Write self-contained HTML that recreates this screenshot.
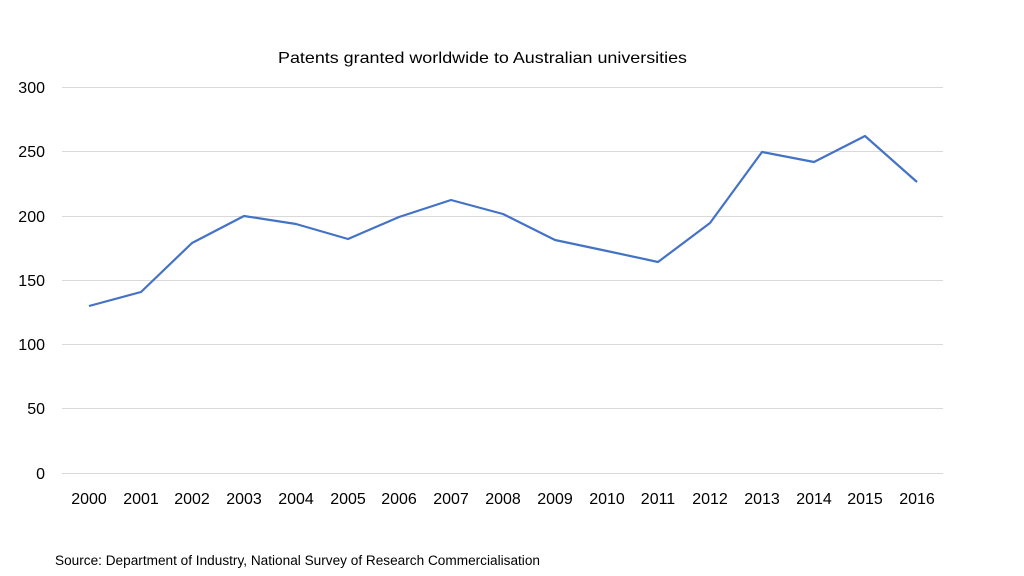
<!DOCTYPE html>
<html><head><meta charset="utf-8"><style>
html,body{margin:0;padding:0;background:#fff;}
svg{display:block;font-family:"Liberation Sans",sans-serif;}
</style></head><body>
<svg width="1024" height="576" viewBox="0 0 1024 576" xmlns="http://www.w3.org/2000/svg">
<rect width="1024" height="576" fill="#fff"/>
<text x="278" y="63" font-size="16" textLength="409" lengthAdjust="spacingAndGlyphs" fill="#000">Patents granted worldwide to Australian universities</text>
<g stroke="#d9d9d9" stroke-width="1">
<line x1="62" x2="943" y1="87.5" y2="87.5"/>
<line x1="62" x2="943" y1="151.5" y2="151.5"/>
<line x1="62" x2="943" y1="216.5" y2="216.5"/>
<line x1="62" x2="943" y1="280.5" y2="280.5"/>
<line x1="62" x2="943" y1="344.5" y2="344.5"/>
<line x1="62" x2="943" y1="408.5" y2="408.5"/>
<line x1="62" x2="943" y1="473.5" y2="473.5"/>
</g>
<g font-size="16" fill="#000" text-anchor="end">
<text x="45" y="93">300</text>
<text x="45" y="157">250</text>
<text x="45" y="222">200</text>
<text x="45" y="286">150</text>
<text x="45" y="350">100</text>
<text x="45" y="414">50</text>
<text x="45" y="479">0</text>
</g>
<g font-size="16" fill="#000" text-anchor="middle">
<text x="89" y="504">2000</text><text x="141" y="504">2001</text><text x="192" y="504">2002</text><text x="244" y="504">2003</text><text x="296" y="504">2004</text><text x="348" y="504">2005</text><text x="399" y="504">2006</text><text x="451" y="504">2007</text><text x="503" y="504">2008</text><text x="555" y="504">2009</text><text x="607" y="504">2010</text><text x="658" y="504">2011</text><text x="710" y="504">2012</text><text x="762" y="504">2013</text><text x="814" y="504">2014</text><text x="865" y="504">2015</text><text x="917" y="504">2016</text>
</g>
<polyline fill="none" stroke="#4472c4" stroke-width="2.2" stroke-linejoin="round" points="89,306 141,292 192,243 244,216 296,224 348,239 399,217 451,200 503,214 555,240 607,251 658,262 710,223 762,152 814,162 865,136 917,182"/>
<text x="55" y="565" font-size="13.5" textLength="485" lengthAdjust="spacingAndGlyphs" fill="#000">Source: Department of Industry, National Survey of Research Commercialisation</text>
</svg>
</body></html>
